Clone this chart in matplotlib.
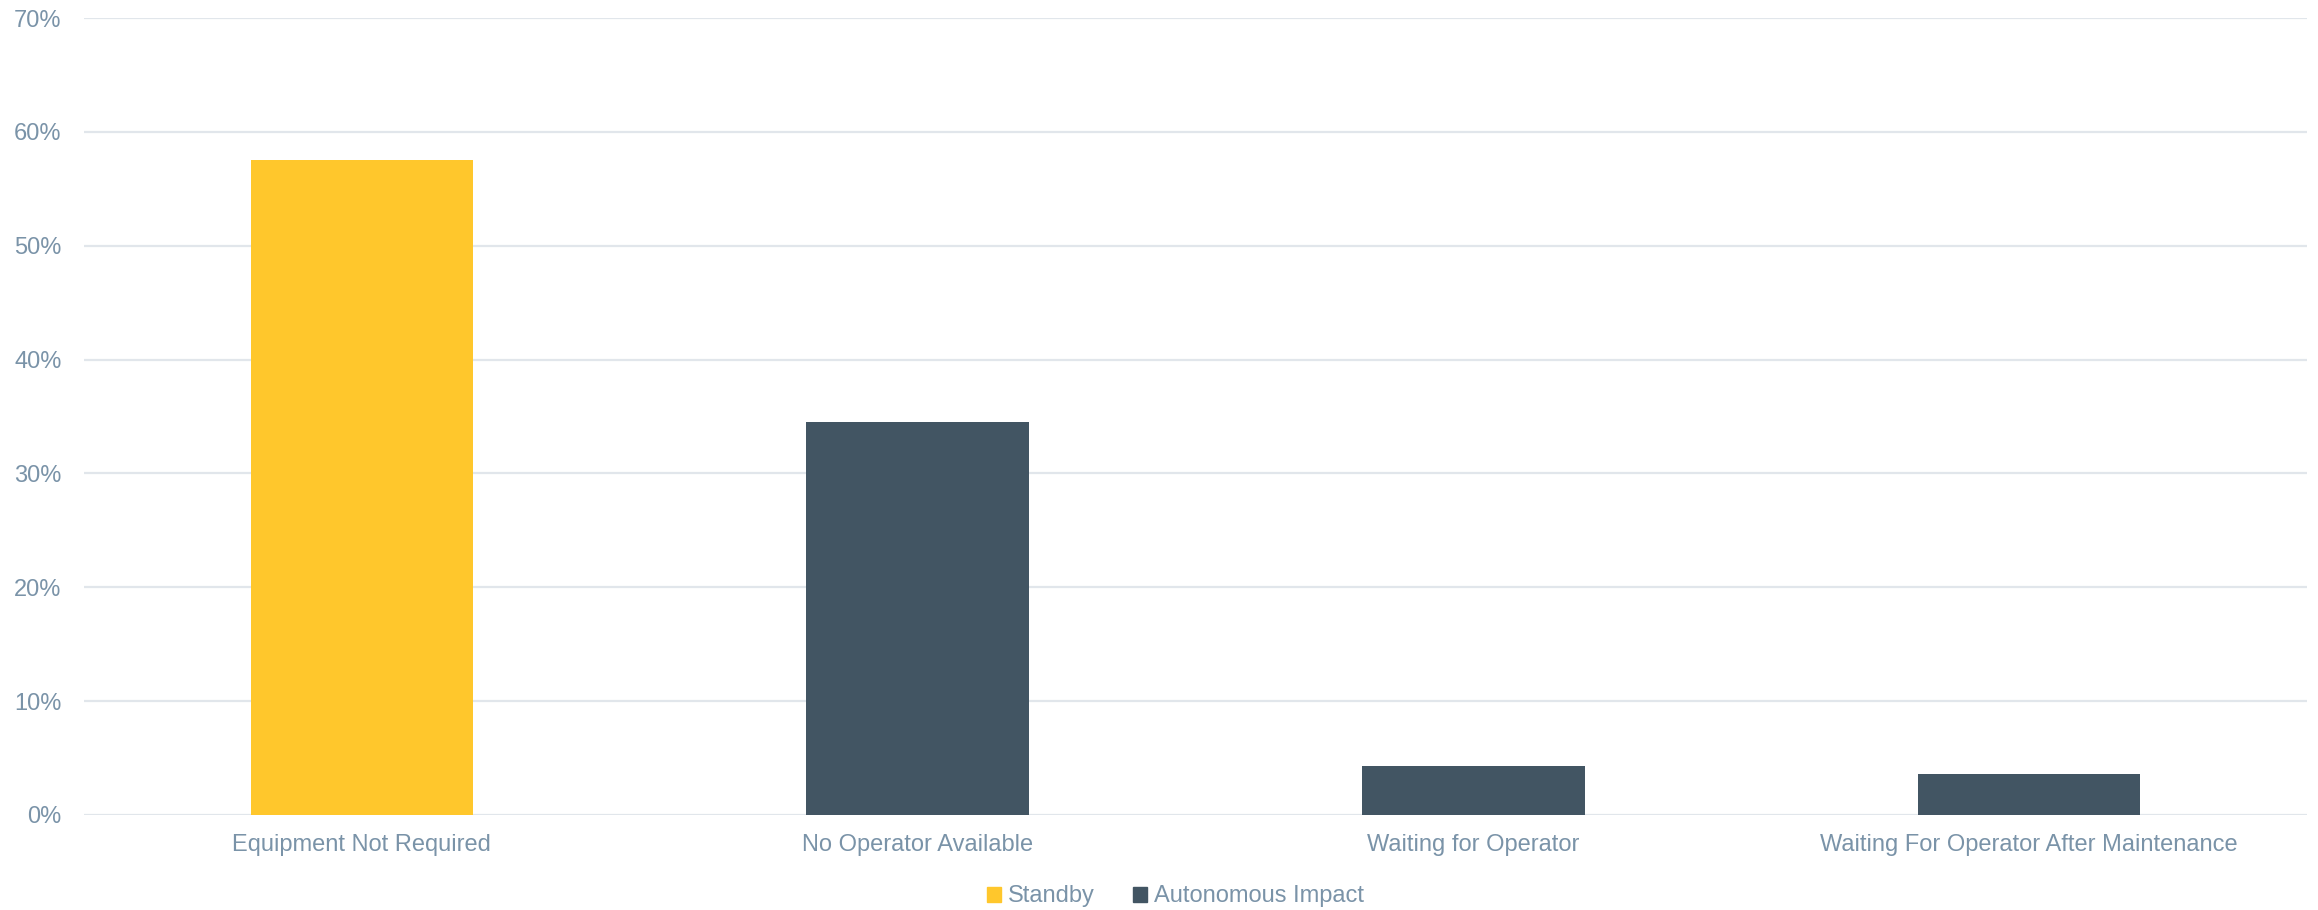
import matplotlib.pyplot as plt
from matplotlib.patches import Patch
from matplotlib.ticker import FuncFormatter

# Share of standby time by reason
categories = ["Equipment Not Required", "No Operator Available",
              "Waiting for Operator", "Waiting For Operator After Maintenance"]
values = [57.5, 34.5, 4.3, 3.6]
series = ["Standby", "Autonomous Impact", "Autonomous Impact", "Autonomous Impact"]

series_names = ["Standby", "Autonomous Impact"]
series_colors = {"Standby": "#FFC72C", "Autonomous Impact": "#425563"}
text_color = "#7A93A8"
grid_color = "#E1E6EB"

plt.rcParams['font.family'] = ['Liberation Sans', 'DejaVu Sans']

fig = plt.figure(figsize=(23.18, 9.10), dpi=100)
ax = fig.add_axes([0.0362, 0.1044, 0.9591, 0.8758])

x = range(len(categories))
ax.bar(x, values, width=0.4, color=[series_colors[s] for s in series], zorder=3)

ax.set_xlim(-0.5, len(categories) - 0.5)
ax.set_ylim(0, 70)
ax.set_yticks(range(0, 71, 10))
ax.yaxis.set_major_formatter(FuncFormatter(lambda v, p: f"{v:.0f}%"))
ax.set_xticks(list(x))
ax.set_xticklabels(categories)

ax.grid(axis='y', color=grid_color, linewidth=1.6, zorder=0)
ax.set_axisbelow(True)
for s in ax.spines.values():
    s.set_visible(False)
ax.tick_params(axis='both', length=0, labelsize=17, colors=text_color)
ax.tick_params(axis='x', pad=14)
ax.tick_params(axis='y', pad=16)

handles = [Patch(color=series_colors[n], label=n) for n in series_names]
fig.legend(handles=handles, loc='center', bbox_to_anchor=(0.507, 0.015),
           ncol=2, frameon=False, fontsize=17, labelcolor=text_color,
           handlelength=0.6, handleheight=0.6, handletextpad=0.3,
           columnspacing=1.6)

fig.savefig("out.png", dpi=100)
